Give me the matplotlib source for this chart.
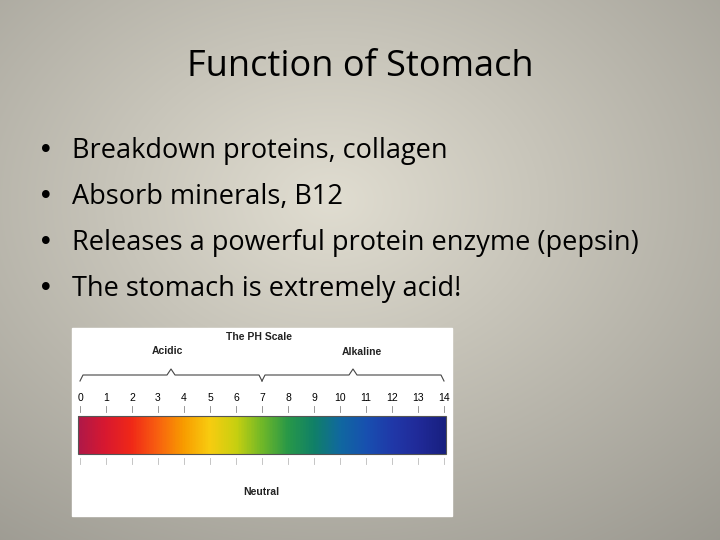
import numpy as np
import matplotlib.pyplot as plt
from matplotlib.colors import LinearSegmentedColormap

title = "Function of Stomach"
bullets = ["Breakdown proteins, collagen", "Absorb minerals, B12",
           "Releases a powerful protein enzyme (pepsin)", "The stomach is extremely acid!"]
ph_values = list(range(15))
ph_colors = ["#b01848", "#d81830", "#f02818", "#f86010", "#f89c00", "#f8cc10", "#c8d010",
             "#70b828", "#289848", "#108068", "#1068a0", "#1850b0", "#2038a8", "#202a98", "#182080"]

fig = plt.figure(figsize=(7.2, 5.4), dpi=100)
ax = fig.add_axes([0, 0, 1, 1])
ax.set_xlim(0, 720); ax.set_ylim(540, 0); ax.axis('off')

yy, xx = np.mgrid[0:540, 0:720]
r = np.sqrt(((xx - 330) / 720) ** 2 + ((yy - 200) / 540) ** 2)
bg = np.clip(0.88 - 0.33 * r, 0, 1)
rgb = np.dstack([bg * 1.0, bg * 0.985, bg * 0.93])
ax.imshow(rgb, extent=[0, 720, 540, 0], aspect='auto', zorder=0)

ax.text(360, 67, title, ha='center', va='center', fontsize=26, family='Open Sans', color='black')
for i, b in enumerate(bullets):
    y = 151 + i * 46
    ax.text(38, y, "•", ha='left', va='center', fontsize=19, color='black')
    ax.text(72, y, b, ha='left', va='center', fontsize=19.5, family='Open Sans', color='black')

ax.add_patch(plt.Rectangle((72, 328), 380, 188, color='white', zorder=1))
cmap = LinearSegmentedColormap.from_list('ph', ph_colors)
grad = np.linspace(0, 1, 400)[None, :]
ax.imshow(grad, cmap=cmap, extent=[78, 446, 454, 416], aspect='auto', zorder=2)
ax.add_patch(plt.Rectangle((78, 416), 368, 38, fill=False, ec='#555555', lw=0.8, zorder=3))
x0, x1 = 80, 444
for v in ph_values:
    x = x0 + (x1 - x0) * v / 14
    ax.text(x, 398, str(v), ha='center', va='center', fontsize=7.5, family='Liberation Sans', zorder=3)
    ax.plot([x, x], [406, 412], color='#888888', lw=0.6, zorder=3)
    ax.plot([x, x], [458, 464], color='#bbbbbb', lw=0.6, zorder=3)

def brace(xa, xb, y, xm):
    ax.plot([xa, xa + 3, xm - 4, xm, xm + 4, xb - 3, xb],
            [y + 6, y, y, y - 6, y, y, y + 6], color='#444444', lw=0.8, zorder=3)
brace(80, 262, 375, 171)
brace(262, 444, 375, 353)
kw = dict(ha='center', va='center', fontsize=7.5, family='Liberation Sans', fontweight='bold', color='#222222', zorder=3)
ax.text(259, 337, "The PH Scale", **kw)
ax.text(167, 351, "Acidic", **kw)
ax.text(362, 352, "Alkaline", **kw)
ax.text(261, 492, "Neutral", **kw)

fig.savefig("out.png", dpi=100)
